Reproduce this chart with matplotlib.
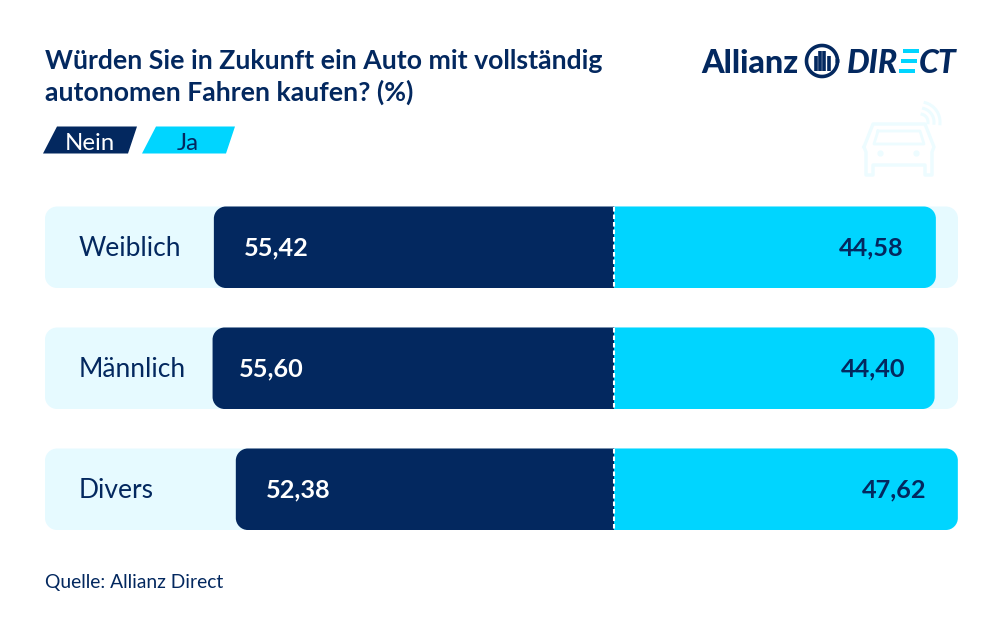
import numpy as np
import matplotlib
matplotlib.use("Agg")
import matplotlib.pyplot as plt
from matplotlib.patches import PathPatch, Polygon, Rectangle
from matplotlib.path import Path

categories = ["Weiblich", "Männlich", "Divers"]
nein = [55.42, 55.60, 52.38]
ja = [44.58, 44.40, 47.62]
nein_labels = ["55,42", "55,60", "52,38"]
ja_labels = ["44,58", "44,40", "47,62"]

NAVY = "#03285F"
CYAN = "#00D5FF"
BAND = "#E6FAFF"
FONT = "Lato"

plt.rcParams["font.family"] = [FONT, "DejaVu Sans"]
fig = plt.figure(figsize=(10, 6.3), dpi=100, facecolor="white")
ax = fig.add_axes([0, 0, 1, 1])
PX = 7.22            # pixels per percentage point
ZERO = 614
ax.set_xlim(-ZERO / PX, (1000 - ZERO) / PX)
ax.set_ylim(630, 0)
ax.axis("off")


def rbox(x0, x1, y0, y1, r, left=True, right=True, **kw):
    rx = r / PX
    k = 0.45
    v, c = [], []
    def add(p, code):
        v.append(p); c.append(code)
    if left:
        add((x0 + rx, y0), Path.MOVETO)
    else:
        add((x0, y0), Path.MOVETO)
    if right:
        add((x1 - rx, y0), Path.LINETO)
        add((x1 - rx * k, y0), Path.CURVE4); add((x1, y0 + r * k), Path.CURVE4); add((x1, y0 + r), Path.CURVE4)
        add((x1, y1 - r), Path.LINETO)
        add((x1, y1 - r * k), Path.CURVE4); add((x1 - rx * k, y1), Path.CURVE4); add((x1 - rx, y1), Path.CURVE4)
    else:
        add((x1, y0), Path.LINETO); add((x1, y1), Path.LINETO)
    if left:
        add((x0 + rx, y1), Path.LINETO)
        add((x0 + rx * k, y1), Path.CURVE4); add((x0, y1 - r * k), Path.CURVE4); add((x0, y1 - r), Path.CURVE4)
        add((x0, y0 + r), Path.LINETO)
        add((x0, y0 + r * k), Path.CURVE4); add((x0 + rx * k, y0), Path.CURVE4); add((x0 + rx, y0), Path.CURVE4)
    else:
        add((x0, y1), Path.LINETO)
    add((x0, y0), Path.CLOSEPOLY)
    p = PathPatch(Path(v, c), lw=0, **kw)
    ax.add_patch(p)
    return p


def X(px):
    return (px - ZERO) / PX


row_tops = [206.5, 327.5, 448.5]
row_h = 81.5
nein_pad = [30, 26, 30]
ja_pad = [32, 29, 31]
band_left = X(45)
band_right = X(958)

for i, cat in enumerate(categories):
    y0 = row_tops[i]
    y1 = y0 + row_h
    yc = (y0 + y1) / 2 - 1
    rbox(band_left, band_right, y0, y1, 12, fc=BAND)
    rbox(-nein[i], 0, y0, y1, 12, right=False, fc=NAVY)
    rbox(0, ja[i], y0, y1, 12, left=False, fc=CYAN)
    ax.plot([0, 0], [y0, y1], color="white", lw=1.5, ls=(0, (2.2, 1.4)), zorder=4)
    ax.text(X(78.5), yc, cat, color=NAVY, fontsize=19, ha="left", va="center_baseline")
    ax.text(-nein[i] + nein_pad[i] / PX, yc, nein_labels[i], color="white", fontsize=18.2,
            fontweight="bold", ha="left", va="center_baseline")
    ax.text(ja[i] - ja_pad[i] / PX, yc, ja_labels[i], color=NAVY, fontsize=18.2,
            fontweight="bold", ha="right", va="center_baseline")

# Title
ax.text(X(45), 59, "Würden Sie in Zukunft ein Auto mit vollständig", color=NAVY,
        fontsize=19.15, fontweight="bold", ha="left", va="center_baseline")
ax.text(X(45), 90, "autonomen Fahren kaufen? (%)", color=NAVY,
        fontsize=19.15, fontweight="bold", ha="left", va="center_baseline")

# Legend
ax.add_patch(Polygon([(X(43), 153.5), (X(57), 126.5), (X(137), 126.5), (X(128), 153.5)], fc=NAVY, lw=0))
ax.add_patch(Polygon([(X(142), 153.5), (X(156), 126.5), (X(235), 126.5), (X(226), 153.5)], fc=CYAN, lw=0))
ax.text(X(90), 141, "Nein", color="white", fontsize=17.3, ha="center", va="center_baseline")
ax.text(X(188), 141, "Ja", color=NAVY, fontsize=17.3, ha="center", va="center_baseline")

# Source
ax.text(X(45), 581, "Quelle: Allianz Direct", color=NAVY, fontsize=13.9, ha="left", va="center_baseline")

# Logo
ax.text(X(701), 61, "Allianz", color=NAVY, fontsize=23.2, fontweight="black", ha="left", va="center_baseline")
cx, cy, rad = 822, 61, 15.5
theta = np.linspace(0, 2 * np.pi, 100)
ax.plot(X(cx + rad * np.cos(theta)), cy + rad * np.sin(theta), color=NAVY, lw=2.6)
for dx, top, bot in [(-6.5, 56, 71), (-1.8, 51, 71), (2, 51, 71), (6.7, 56, 71)]:
    ax.plot([X(cx + dx)] * 2, [top, bot], color=NAVY, lw=2.6, solid_capstyle="butt")
ax.text(X(847), 61, "DIR", color=NAVY, fontsize=23, fontweight="black", style="italic",
        ha="left", va="center_baseline")
for yy, x_a, x_b in [(51, 903, 919), (61, 901, 917), (71, 899, 915)]:
    ax.add_patch(Rectangle((X(x_a), yy - 2), (x_b - x_a) / PX, 4.2, fc=CYAN, lw=0))
ax.text(X(919), 61, "CT", color=NAVY, fontsize=23, fontweight="black", style="italic",
        ha="left", va="center_baseline")

# Faint car icon
CAR = "#EDFCFF"
car_x = [864, 873, 925, 934, 932, 932, 925, 925, 873, 873, 866, 866, 864]
car_y = [147, 124, 124, 147, 152, 175, 175, 165, 165, 175, 175, 152, 147]
ax.plot(X(np.array(car_x, float)), car_y, color=CAR, lw=2.4)
wx = [878, 920, 924, 874, 878]
wy = [131, 131, 144, 144, 131]
ax.plot(X(np.array(wx, float)), wy, color=CAR, lw=2.0)
for lx in (880, 916):
    ax.plot([X(lx)], [153], "o", color=CAR, ms=3.5)
for r in (8, 14, 20):
    t = np.radians(np.linspace(-75, 5, 30))
    ax.plot(X(920 + r * np.cos(t)), 122 + r * np.sin(t), color=CAR, lw=2.2)

fig.savefig("out.png", dpi=100, facecolor="white")
